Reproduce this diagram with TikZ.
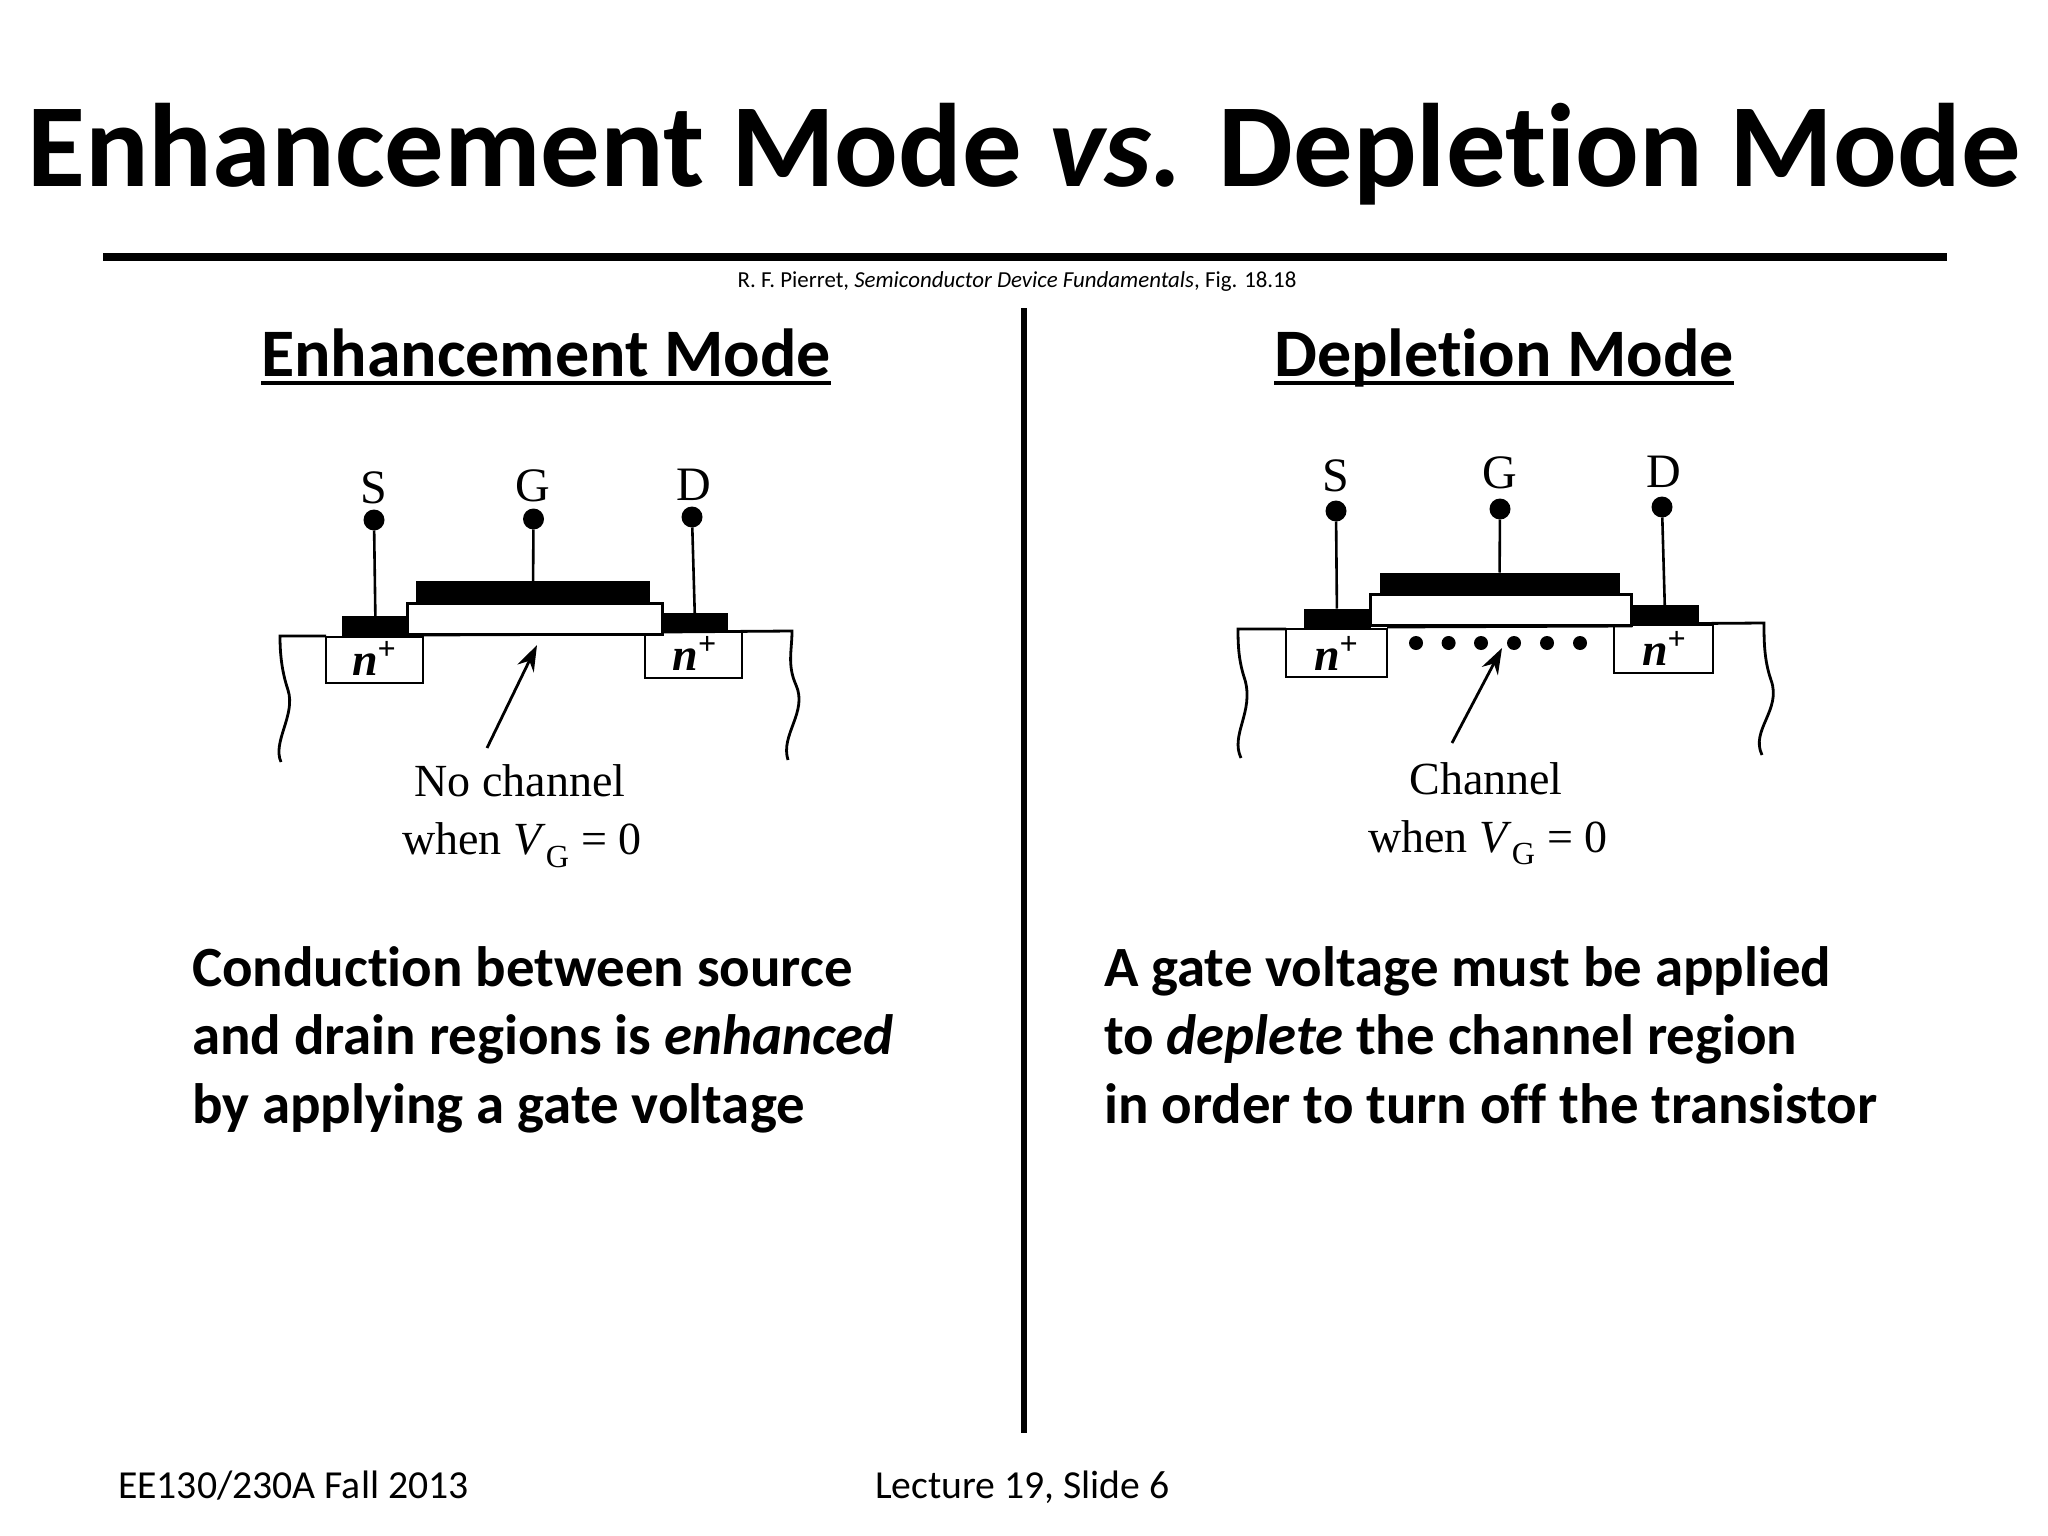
\documentclass[tikz,border=0pt]{standalone}
\usepackage{fontspec}
\setmainfont[Ligatures=NoCommon]{Carlito}
\newfontfamily\figfont{Liberation Serif}
\usetikzlibrary{arrows.meta}
\newcommand{\headline}[1]{\setbox0\hbox{#1}\rlap{\rule[-9pt]{\wd0}{4.5pt}}\box0}
\newcommand{\nplus}{\textbf{\textit{n}}\raisebox{16pt}{\fontsize{32}{32}\selectfont\textbf{+}}}
\tikzset{
  slide/.style={inner sep=0pt, outer sep=0pt},
  titletext/.style={slide, anchor=base, font=\fontsize{118.7}{130}\selectfont\bfseries},
  headtext/.style={slide, anchor=base, font=\fontsize{68}{76}\selectfont\bfseries},
  bodytext/.style={slide, anchor=base west, align=left, font=\fontsize{56.9}{68.3}\selectfont\bfseries},
  foottext/.style={slide, anchor=base west, font=\fontsize{39.7}{45}\selectfont},
  pinlabel/.style={slide, font=\figfont\fontsize{48}{50}\selectfont},
  figlabel/.style={slide, anchor=base, font=\figfont\fontsize{46}{50}\selectfont},
  dopelabel/.style={slide, font=\figfont\fontsize{46}{46}\selectfont},
  pindot/.style={slide, circle, fill=black, minimum size=21pt},
  carrier/.style={slide, circle, fill=black, minimum size=14pt},
  metal/.style={slide, fill=black},
  oxide/.style={slide, draw=black, fill=white, line width=3pt},
  implant/.style={slide, draw=black, line width=2.8pt},
  wire/.style={line width=2.6pt},
  bulk/.style={line width=2.8pt},
  pointer/.style={line width=2.8pt, -{Stealth[length=26pt,width=18pt]}}
}
\begin{document}
\begin{tikzpicture}[x=1pt,y=-1pt]
  \useasboundingbox [fill=white] (0,0) rectangle (2048,1536);

  % header
  \node (title) [titletext] at (1024,186) {Enhancement Mode \textit{vs.} Depletion Mode};
  \coordinate (rulel) at (103,257);
  \coordinate (ruler) at (1947,257);
  \draw [line width=8pt] (rulel) -- (ruler);
  \node (cite) [slide, anchor=base, font=\fontsize{22.9}{26}\selectfont] at (1017,287) {R. F. Pierret, \textit{Semiconductor Device Fundamentals}, Fig. 18.18};
  \coordinate (divt) at (1024,308);
  \coordinate (divb) at (1024,1433);
  \draw [line width=5.5pt] (divt) -- (divb);

  \node (headl) [headtext] at (546,376) {\headline{Enhancement Mode}};
  \node (headr) [headtext] at (1504,376) {\headline{Depletion Mode}};

  % enhancement device
  \draw [bulk] (281,762) .. controls (272,742) and (296,715) .. (288,690)
    .. controls (282,672) and (280,655) .. (280,636) -- (326,636);
  \draw [bulk] (423,635) -- (662,634) -- (662,632) -- (792,631)
    .. controls (792,650) and (787,665) .. (796,685)
    .. controls (808,712) and (780,735) .. (788,760);
  \node (sboxl) [implant, minimum width=97pt, minimum height=46pt] at (374.5,660) {};
  \node (dboxl) [implant, minimum width=97pt, minimum height=46pt] at (693.5,655) {};
  \node (snl) [dopelabel] at (374,658) {\nplus};
  \node (dnl) [dopelabel] at (694.5,653) {\nplus};
  \node (oxl) [oxide, minimum width=255pt, minimum height=31pt] at (534.5,618.5) {};
  \node (gatel) [metal, minimum width=234pt, minimum height=23pt] at (533,592.5) {};
  \node (scl) [metal, minimum width=67pt, minimum height=20pt] at (375.5,626) {};
  \node (dcl) [metal, minimum width=66pt, minimum height=19pt] at (695,622.5) {};
  \node (sdl) [pindot] at (374,520) {};
  \node (gdl) [pindot] at (533.5,519) {};
  \node (ddl) [pindot] at (692,517) {};
  \draw [wire] (sdl) -- (scl);
  \draw [wire] (gdl) -- (gatel);
  \draw [wire] (ddl) -- (dcl);
  \node (sl) [pinlabel] at (374,488) {S};
  \node (gl) [pinlabel] at (533,486) {G};
  \node (dl) [pinlabel] at (694,485) {D};
  \node (nochan) [figlabel] at (520,796) {No channel};
  \node (whenl) [figlabel] at (522,854.5) {when \textit{V}\textsubscript{G} = 0};
  \coordinate (tailal) at (487,748);
  \coordinate (tipal) at (537,645);
  \draw [pointer] (tailal) -- (tipal);

  % depletion device
  \draw [bulk] (1241,758) .. controls (1230,735) and (1254,712) .. (1245,680)
    .. controls (1239,662) and (1238,648) .. (1238,629) -- (1286,629);
  \draw [bulk] (1387,627) -- (1631,626) -- (1631,624) -- (1764,623)
    .. controls (1764,640) and (1764,660) .. (1771,680)
    .. controls (1782,710) and (1750,730) .. (1762,755);
  \node (sboxr) [implant, minimum width=101pt, minimum height=48pt] at (1336.5,653) {};
  \node (dboxr) [implant, minimum width=99pt, minimum height=48pt] at (1663.5,649) {};
  \node (snr) [dopelabel] at (1336,653) {\nplus};
  \node (dnr) [dopelabel] at (1664,648) {\nplus};
  \foreach \cx/\cname in {1416/a,1448.6/b,1481/c,1514/d,1547/e,1580/f}
    \node (car\cname) [carrier] at (\cx,643) {};
  \node (oxr) [oxide, minimum width=261pt, minimum height=31pt] at (1500.5,609.5) {};
  \node (gater) [metal, minimum width=240pt, minimum height=23pt] at (1499.5,584) {};
  \node (scr) [metal, minimum width=67pt, minimum height=20pt] at (1337,618.5) {};
  \node (dcr) [metal, minimum width=68pt, minimum height=18pt] at (1665,614) {};
  \node (sdr) [pindot] at (1336,511) {};
  \node (gdr) [pindot] at (1500,509) {};
  \node (ddr) [pindot] at (1662,507) {};
  \draw [wire] (sdr) -- (scr);
  \draw [wire] (gdr) -- (gater);
  \draw [wire] (ddr) -- (dcr);
  \node (sr) [pinlabel] at (1335.5,476) {S};
  \node (gr) [pinlabel] at (1500,473) {G};
  \node (dr) [pinlabel] at (1664,472) {D};
  \node (chan) [figlabel] at (1486,794) {Channel};
  \node (whenr) [figlabel] at (1488,852) {when \textit{V}\textsubscript{G} = 0};
  \coordinate (tailar) at (1452,743);
  \coordinate (tipar) at (1502,648);
  \draw [pointer] (tailar) -- (tipar);

  % text below
  \node (bodyl) [bodytext] at (192,1123) {Conduction between source\\and drain regions is \textit{enhanced}\\by applying a gate voltage};
  \node (bodyr) [bodytext] at (1104,1123) {A gate voltage must be applied\\to \textit{deplete} the channel region\\in order to turn off the transistor};

  \node (footl) [foottext] at (118,1498) {EE130/230A Fall 2013};
  \node (footr) [foottext] at (875,1498) {Lecture 19, Slide 6};
\end{tikzpicture}
\end{document}
